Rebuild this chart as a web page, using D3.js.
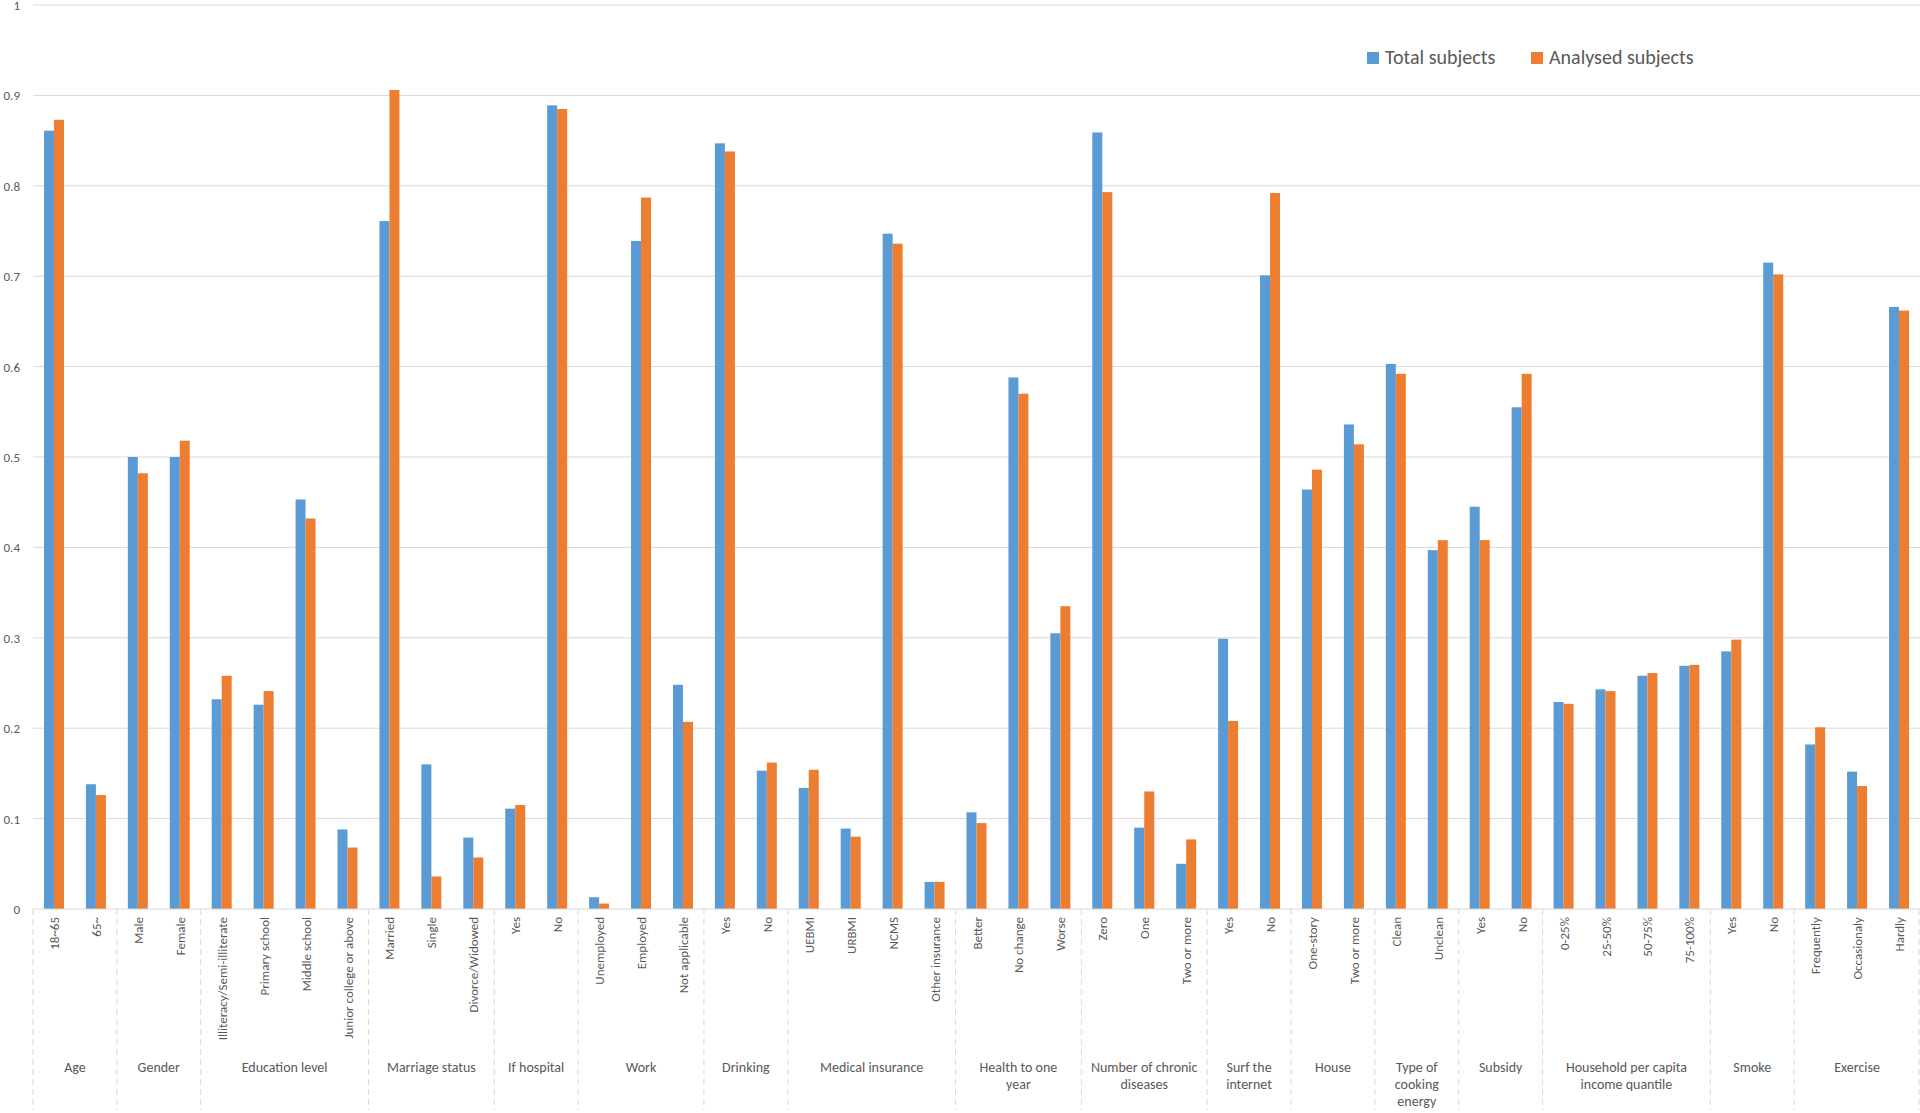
<!DOCTYPE html><html><head><meta charset="utf-8"><script src="https://cdn.jsdelivr.net/npm/d3@7"></script>
<style>body{margin:0;background:#fff}svg{font-family:Calibri,"Liberation Sans",Carlito,sans-serif}</style></head><body><svg id="c" width="1920" height="1113"></svg><script>
const groups=[["Age",["18~65","65~"]],["Gender",["Male","Female"]],["Education level",["Illiteracy/Semi-illiterate","Primary school","Middle school","Junior college or above"]],["Marriage status",["Married","Single","Divorce/Widowed"]],["If hospital",["Yes","No"]],["Work",["Unemployed","Employed","Not applicable"]],["Drinking",["Yes","No"]],["Medical insurance",["UEBMI","URBMI","NCMS","Other insurance"]],["Health to one year",["Better","No change","Worse"]],["Number of chronic diseases",["Zero","One","Two or more"]],["Surf the internet",["Yes","No"]],["House",["One-story","Two or more"]],["Type of cooking energy",["Clean","Unclean"]],["Subsidy",["Yes","No"]],["Household per capita income quantile",["0-25%","25-50%","50-75%","75-100%"]],["Smoke",["Yes","No"]],["Exercise",["Frequently","Occasionaly","Hardly"]]];
const total=[0.861,0.138,0.500,0.500,0.232,0.226,0.453,0.088,0.761,0.160,0.079,0.111,0.889,0.013,0.739,0.248,0.847,0.153,0.134,0.089,0.747,0.030,0.107,0.588,0.305,0.859,0.090,0.050,0.299,0.701,0.464,0.536,0.603,0.397,0.445,0.555,0.229,0.243,0.258,0.269,0.285,0.715,0.182,0.152,0.666];
const analysed=[0.873,0.126,0.482,0.518,0.258,0.241,0.432,0.068,0.906,0.036,0.057,0.115,0.885,0.006,0.787,0.207,0.838,0.162,0.154,0.080,0.736,0.030,0.095,0.570,0.335,0.793,0.130,0.077,0.208,0.792,0.486,0.514,0.592,0.408,0.408,0.592,0.227,0.241,0.261,0.270,0.298,0.702,0.201,0.136,0.662];
const yTicks=[0,0.1,0.2,0.3,0.4,0.5,0.6,0.7,0.8,0.9,1];
const cats=[];groups.forEach((g,gi)=>g[1].forEach(s=>cats.push({g:gi,s,id:cats.length})));
const svg=d3.select("#c");
const L=33,R=1920,T=5,B=909;
const x=d3.scaleBand().domain(cats.map(c=>c.id)).range([L,R]);
const y=d3.scaleLinear().domain([0,1]).range([B,T]);
svg.append("g").selectAll("line").data(yTicks.slice(1)).join("line").attr("x1",L).attr("x2",R).attr("y1",d=>y(d)).attr("y2",d=>y(d)).attr("stroke","#d9d9d9");
svg.append("g").selectAll("text").data(yTicks).join("text").attr("x",20).attr("y",d=>y(d)+5).attr("text-anchor","end").attr("font-size",13).attr("fill","#595959").text(d=>d);
const bw=10;
svg.append("g").selectAll("rect").data(total).join("rect").attr("x",(d,i)=>x(i)+x.bandwidth()/2-bw).attr("width",bw).attr("y",d=>y(d)).attr("height",d=>B-y(d)).attr("fill","#5B9BD5");
svg.append("g").selectAll("rect").data(analysed).join("rect").attr("x",(d,i)=>x(i)+x.bandwidth()/2).attr("width",bw).attr("y",d=>y(d)).attr("height",d=>B-y(d)).attr("fill","#ED7D31");
svg.append("line").attr("x1",L).attr("x2",R).attr("y1",B).attr("y2",B).attr("stroke","#d9d9d9");
const bounds=[0];let k=0;groups.forEach(g=>{k+=g[1].length;bounds.push(k);});
svg.append("g").selectAll("line").data(bounds).join("line").attr("x1",b=>b<cats.length?x(b):R-1).attr("x2",b=>b<cats.length?x(b):R-1).attr("y1",B).attr("y2",1110).attr("stroke","#d9d9d9").attr("stroke-dasharray","6,4");
svg.append("g").selectAll("text").data(cats).join("text").attr("transform",c=>`translate(${x(c.id)+x.bandwidth()/2+5},${B+8}) rotate(-90)`).attr("text-anchor","end").attr("font-size",13).attr("fill","#595959").text(c=>c.s);
const gl=svg.append("g");
groups.forEach((g,gi)=>{const a=x(bounds[gi]),b=bounds[gi+1]<cats.length?x(bounds[gi+1]):R;const w=b-a;
 const words=g[0].split(" ");const lines=[];let cur="";const maxc=Math.floor(w/7.2);
 words.forEach(wd=>{if(cur&&(cur+" "+wd).length>maxc){lines.push(cur);cur=wd}else cur=cur?cur+" "+wd:wd});lines.push(cur);
 lines.forEach((ln,li)=>gl.append("text").attr("x",(a+b)/2).attr("y",1072+li*17).attr("text-anchor","middle").attr("font-size",14).attr("fill","#595959").text(ln));});
const leg=svg.append("g").attr("transform","translate(1367,59)");
[["Total subjects","#5B9BD5",0],["Analysed subjects","#ED7D31",164]].forEach(([t,c,dx])=>{leg.append("rect").attr("x",dx).attr("y",-7).attr("width",12).attr("height",12).attr("fill",c);leg.append("text").attr("x",dx+18).attr("y",5).attr("font-size",20).attr("fill","#595959").text(t);});
</script></body></html>
